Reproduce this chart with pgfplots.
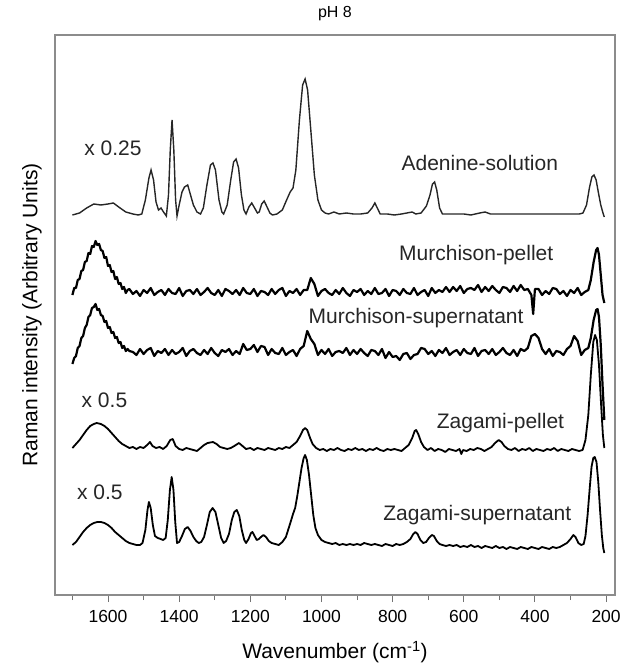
\documentclass[border=0pt]{standalone}
\usepackage{fontspec}
\setmainfont{Liberation Sans}
\usepackage{pgfplots}
\pgfplotsset{compat=1.18}
\begin{document}
\begin{tikzpicture}
\path[use as bounding box] (-55pt,-74pt) rectangle (575pt,595pt);
\begin{axis}[
  scale only axis, width=560pt, height=560pt,
  anchor=south west, at={(0pt,0pt)},
  xmin=175, xmax=1749, x dir=reverse,
  ymin=5, ymax=565,
  ytick=\empty,
  xtick={200,400,...,1600},
  minor xtick={300,500,...,1700},
  xtick pos=bottom,
  tick align=outside,
  major tick length=7pt, minor tick length=5pt,
  axis line style={black!45, line width=1.4pt},
  every tick/.style={black!55, line width=1pt},
  /pgf/number format/1000 sep={},
  /pgf/number format/assume math mode=true,
  tick label style={font=\fontsize{17.5}{20}\selectfont},
  xticklabel style={yshift=-5pt},
  label style={font=\fontsize{21}{25}\selectfont},
  title style={font=\fontsize{16}{19}\selectfont, at={(axis description cs:0.5,1.027)}, anchor=center},
  xlabel style={at={(axis description cs:0.5,-0.1018)}, anchor=center},
  ylabel style={at={(axis description cs:-0.041,0.5)}, anchor=center},
  xlabel={Wavenumber (cm\textsuperscript{-1})},
  ylabel={Raman intensity (Arbitrary Units)},
  title={pH 8},
  clip=false,
]
% Adenine-solution (x 0.25)
\addplot[black!85, line width=1.4pt] coordinates {
(1700,385)(1680,387)(1660,392)(1640,396)(1620,395)(1600,396)(1585,397)(1570,393)(1550,388)(1530,386)(1515,385)(1505,386)
(1495,400)(1485,422)(1479,430)(1472,420)(1465,398)(1458,390)(1451,392)(1444,388)(1436,384)(1430,405)(1425,450)(1420,480)
(1415,450)(1410,400)(1406,384)(1400,395)(1392,408)(1385,413)(1376,415)(1368,405)(1360,395)(1350,388)(1340,386)(1332,392)
(1322,415)(1312,435)(1305,437)(1298,430)(1288,400)(1280,388)(1275,386)(1265,395)(1255,420)(1247,438)(1240,441)(1233,432)
(1225,405)(1218,390)(1212,386)(1204,393)(1196,397)(1188,392)(1180,387)(1175,388)(1168,396)(1161,399)(1153,393)(1145,387)
(1138,385)(1125,386)(1110,390)(1098,400)(1088,408)(1080,412)(1072,430)(1062,480)(1053,515)(1046,521)(1039,510)(1030,470)
(1020,425)(1010,400)(1000,390)(990,387)(980,386)(965,388)(950,386)(930,387)(910,386)(890,386)(870,387)(858,392)(850,397)
(843,392)(835,386)(815,386)(795,385)(775,386)(760,387)(745,388)(735,386)(720,387)(705,394)(695,405)(688,416)(682,418)
(676,410)(668,392)(660,386)(640,386)(620,386)(600,386)(580,385)(555,387)(540,388)(525,386)(500,386)(470,386)(440,386)
(410,386)(380,386)(350,386)(320,386)(295,386)(275,386)(265,387)(255,395)(247,412)(240,423)(234,425)(228,420)(222,408)
(215,395)(208,386)(205,383)
};
% Murchison-pellet
\addplot[black, line width=2.2pt, line join=round] coordinates {
(1700,305)(1695,312)(1690,312)(1685,320)(1680,321)(1675,329)(1670,330)(1665,338)(1660,339)(1655,347)(1650,346)(1645,354)
(1640,353)(1635,359)(1630,355)(1625,356)(1620,350)(1615,349)(1610,342)(1605,343)(1600,334)(1595,335)(1590,328)(1585,329)
(1580,321)(1575,323)(1570,316)(1565,317)(1560,311)(1555,313)(1550,307)(1545,310)
(1540,311)(1530,306)(1520,309)(1510,304)(1500,310)(1490,307)(1480,312)(1470,305)(1460,308)(1450,310)(1440,305)(1430,311)
(1420,307)(1410,306)(1400,312)(1390,304)(1380,309)(1370,310)(1360,306)(1350,311)(1340,305)(1330,308)(1320,312)(1310,307)
(1300,305)(1290,310)(1280,304)(1270,311)(1260,309)(1250,306)(1240,310)(1230,305)(1220,312)(1210,307)(1200,306)(1190,311)
(1180,304)(1170,309)(1160,308)(1150,305)(1140,311)(1130,306)(1120,310)(1110,312)(1100,304)(1090,309)(1080,307)(1070,311)
(1060,305)(1050,310)(1040,310)(1030,322)(1020,316)(1010,304)(1000,309)(990,311)(980,307)(970,305)(960,310)(950,306)
(940,312)(930,307)(920,304)(910,310)(900,308)(890,311)(880,305)(870,309)(860,306)(850,312)(840,306)(830,307)(820,311)
(810,304)(800,310)(790,309)(780,305)(770,311)(760,307)(750,306)(740,312)(730,305)(720,308)(710,310)(700,304)(690,312)
(680,307)(670,310)(660,308)(650,313)(640,308)(630,313)(620,309)(610,314)(600,307)(590,311)(580,312)(570,310)(560,315)
(550,308)(540,313)(530,309)(520,314)(510,310)(500,307)(490,313)(480,312)(470,308)(460,314)(450,309)(440,315)(430,310)
(420,311)(410,305)(405,286)(400,311)(390,311)(380,305)(370,309)(360,306)(350,312)(340,311)(330,306)(320,309)(310,304)
(300,310)(290,307)(280,312)(270,305)(260,308)(250,310)(243,320)(235,338)(228,350)(224,352)(220,345)(215,325)(210,305)(205,297)
};
% Murchison-supernatant
\addplot[black, line width=2.2pt, line join=round] coordinates {
(1700,236)(1695,242)(1690,244)(1685,252)(1680,254)(1675,262)(1670,264)(1665,272)(1660,275)(1655,283)(1650,285)(1645,292)
(1640,293)(1635,296)(1630,290)(1625,291)(1620,285)(1615,284)(1610,278)(1605,279)(1600,272)(1595,273)(1590,267)(1585,268)
(1580,262)(1575,263)(1570,257)(1565,258)(1560,252)(1555,254)(1550,249)(1545,251)
(1540,249)(1530,248)(1520,245)(1510,251)(1500,246)(1490,250)(1480,252)(1470,244)(1460,249)(1450,247)(1440,251)(1430,245)
(1420,250)(1410,246)(1400,248)(1390,252)(1380,244)(1370,249)(1360,251)(1350,247)(1340,245)(1330,250)(1320,246)(1310,252)
(1300,247)(1290,244)(1280,250)(1270,248)(1260,251)(1250,245)(1240,249)(1230,246)(1220,256)(1210,250)(1200,251)(1190,255)
(1180,248)(1170,254)(1160,253)(1150,245)(1140,251)(1130,247)(1120,246)(1110,252)(1100,245)(1090,248)(1080,250)(1070,244)
(1060,251)(1050,254)(1040,269)(1030,261)(1020,256)(1010,245)(1000,250)(990,246)(980,251)(970,244)(960,248)(950,249)
(940,247)(930,252)(920,245)(910,250)(900,246)(890,251)(880,247)(870,244)(860,250)(850,249)(840,245)(830,251)(820,242)
(810,248)(800,243)(790,244)(780,240)(770,246)(760,247)(750,241)(740,245)(730,246)(720,252)(710,251)(700,246)(690,249)
(680,244)(670,250)(660,247)(650,252)(640,245)(630,248)(620,250)(610,245)(600,251)(590,247)(580,246)(570,252)(560,244)
(550,249)(540,250)(530,246)(520,251)(510,245)(500,248)(490,252)(480,247)(470,245)(460,250)(450,244)(440,251)(430,249)
(420,252)(410,264)(400,266)(390,262)(380,251)(370,246)(360,251)(350,244)(340,249)(330,248)(320,245)(310,251)(300,254)
(290,264)(280,259)(270,245)(260,250)(250,252)(243,262)(235,280)(228,290)(224,291)(220,283)(215,255)(210,215)(205,180)
};
% Zagami-pellet (x 0.5)
\addplot[black, line width=1.8pt, line join=round] coordinates {
(1700,152)(1690,156)(1680,160)(1670,165)(1660,170)(1650,174)(1640,176)(1632,177)(1620,176)(1610,174)(1600,171)(1590,167)
(1580,163)(1570,159)(1560,156)(1550,154)(1540,152)(1530,153)(1520,151)(1510,153)(1500,152)(1490,155)(1482,158)(1475,154)
(1465,152)(1455,153)(1445,151)(1435,154)(1425,160)(1418,161)(1410,154)(1400,151)(1390,150)(1380,152)(1370,151)(1360,150)
(1350,149)(1340,152)(1330,155)(1320,157)(1305,158)(1295,156)(1285,153)(1275,152)(1265,151)(1255,152)(1245,154)(1232,157)
(1222,154)(1212,151)(1200,152)(1190,150)(1180,152)(1170,151)(1160,150)(1150,152)(1140,151)(1130,150)(1120,152)(1110,151)
(1100,153)(1090,152)(1080,155)(1070,158)(1060,164)(1052,170)(1046,172)(1040,170)(1032,162)(1025,156)(1015,152)(1005,150)
(995,151)(985,149)(975,151)(965,150)(955,152)(945,150)(935,149)(925,151)(915,150)(905,152)(895,150)(885,151)(875,149)
(865,151)(855,150)(845,152)(835,150)(825,149)(815,151)(805,150)(795,151)(785,150)(775,149)(765,152)(755,155)(745,162)
(738,169)(734,170)(728,166)(720,158)(712,153)(702,150)(692,152)(682,149)(672,151)(662,150)(652,148)(642,151)(632,150)
(622,149)(612,151)(607,146)(602,150)(592,149)(582,151)(572,150)(562,152)(552,151)(542,149)(532,151)(522,153)(512,157)
(502,160)(494,158)(486,154)(476,151)(466,150)(456,152)(446,149)(436,151)(426,150)(416,152)(406,149)(396,151)(386,150)
(376,149)(366,151)(356,150)(346,152)(336,149)(326,151)(316,150)(306,149)(296,151)(286,150)(276,149)(266,150)(258,160)
(250,185)(243,225)(236,258)(231,265)(226,260)(220,235)(214,195)(209,165)(205,152)
};
% Zagami-supernatant (x 0.5)
\addplot[black, line width=1.8pt, line join=round] coordinates {
(1700,55)(1690,58)(1680,63)(1670,68)(1660,72)(1650,75)(1640,77)(1630,78)(1620,78)(1610,77)(1600,75)(1590,72)(1580,68)
(1570,65)(1560,62)(1550,59)(1540,57)(1530,56)(1520,55)(1510,55)(1503,57)(1495,70)(1489,90)(1485,98)(1480,92)(1474,75)
(1468,64)(1460,62)(1452,61)(1445,60)(1438,62)(1432,80)(1426,110)(1421,123)(1416,110)(1411,78)(1406,57)(1400,58)(1392,64)
(1384,71)(1376,73)(1368,69)(1360,63)(1352,59)(1345,57)(1338,58)(1330,63)(1322,75)(1314,88)(1306,92)(1298,88)(1290,75)
(1282,62)(1275,57)(1268,59)(1260,66)(1252,80)(1245,88)(1238,90)(1231,84)(1224,70)(1217,60)(1212,57)(1205,61)(1198,67)
(1194,68)(1188,64)(1182,60)(1176,61)(1170,63)(1163,65)(1156,63)(1148,59)(1140,57)(1130,56)(1120,55)(1110,58)(1100,63)
(1092,72)(1085,80)(1080,86)(1074,92)(1068,104)(1062,118)(1056,132)(1050,142)(1046,145)(1041,140)(1035,125)(1029,105)
(1023,85)(1017,72)(1010,65)(1000,60)(990,58)(980,57)(970,56)(960,57)(950,55)(940,56)(930,55)(920,56)(910,55)(900,56)
(890,55)(880,57)(870,56)(860,55)(850,56)(840,55)(830,54)(820,56)(810,55)(800,54)(790,56)(780,55)(770,56)(760,58)(750,61)
(742,66)(736,68)(730,66)(722,60)(714,57)(706,58)(698,62)(690,65)(684,64)(676,59)(668,56)(660,55)(650,54)(640,55)(630,54)
(620,55)(610,53)(600,54)(590,53)(580,55)(570,53)(560,54)(550,52)(540,54)(530,53)(520,52)(510,54)(500,52)(490,53)(480,51)
(470,53)(460,52)(450,51)(440,53)(430,52)(420,51)(410,53)(400,52)(390,51)(380,53)(370,52)(360,51)(350,53)(340,52)(330,53)
(320,55)(310,57)(300,61)(292,65)(286,63)(278,57)(270,55)(263,56)(258,64)(252,85)(246,112)(241,133)(236,142)(232,143)
(227,138)(222,118)(217,90)(212,65)(208,52)(205,47)
};
\begin{scope}[every node/.style={font=\fontsize{21}{25}\selectfont, text=black!85}]
\node at (axis cs:1586,452) {x 0.25};
\node at (axis cs:555,437) {Adenine-solution};
\node at (axis cs:565,345) {Murchison-pellet};
\node at (axis cs:734,282) {Murchison-supernatant};
\node at (axis cs:1610,200) {x 0.5};
\node at (axis cs:497,177) {Zagami-pellet};
\node at (axis cs:1623,108) {x 0.5};
\node at (axis cs:562,85) {Zagami-supernatant};
\end{scope}
\end{axis}
\end{tikzpicture}
\end{document}
